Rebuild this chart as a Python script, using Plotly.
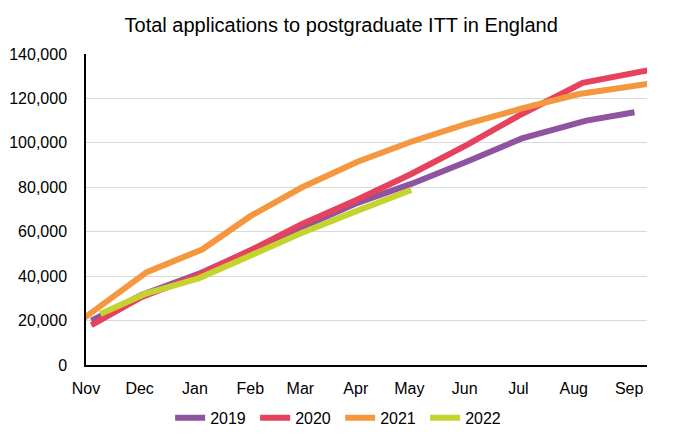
import plotly.graph_objects as go

# Dates placed on a common recruitment-cycle axis (Nov 2021 - Sep 2022)
dates_2019 = ["2021-11-04", "2021-12-02", "2022-01-03", "2022-02-02", "2022-03-02", "2022-04-02",
              "2022-05-02", "2022-06-02", "2022-07-03", "2022-08-08", "2022-09-04"]
values_2019 = [20000, 31500, 41000, 51500, 62000, 73000, 81500, 91500, 102000, 110000, 113800]

dates_2020 = ["2021-11-04", "2021-12-02", "2022-01-03", "2022-02-02", "2022-03-02", "2022-04-02",
              "2022-05-02", "2022-06-02", "2022-07-03", "2022-08-06", "2022-09-12"]
values_2020 = [18000, 30500, 40500, 52000, 63500, 74500, 86000, 99000, 113000, 127000, 132700]

dates_2021 = ["2021-10-31", "2021-12-05", "2022-01-05", "2022-02-01", "2022-03-02", "2022-04-02",
              "2022-05-02", "2022-06-02", "2022-07-03", "2022-08-04", "2022-09-12"]
values_2021 = [21200, 41800, 52000, 67000, 80000, 91500, 100500, 108500, 115500, 122000, 126600]

dates_2022 = ["2021-11-09", "2021-12-04", "2022-01-03", "2022-02-02", "2022-03-02", "2022-04-02",
              "2022-05-02"]
values_2022 = [23000, 32000, 39000, 49500, 59500, 69500, 78800]

series_names = ["2019", "2020", "2021", "2022"]
colors = ["#8F54A0", "#E6415D", "#F5973F", "#C4D32E"]

month_ticks = ["2021-11-01", "2021-12-01", "2022-01-01", "2022-02-01", "2022-03-01", "2022-04-01",
               "2022-05-01", "2022-06-01", "2022-07-01", "2022-08-01", "2022-09-01"]
month_labels = ["Nov", "Dec", "Jan", "Feb", "Mar", "Apr", "May", "Jun", "Jul", "Aug", "Sep"]

y_ticks = [0, 20000, 40000, 60000, 80000, 100000, 120000, 140000]

FONT = "Liberation Sans, Arial, sans-serif"

fig = go.Figure()
all_dates = [dates_2019, dates_2020, dates_2021, dates_2022]
all_values = [values_2019, values_2020, values_2021, values_2022]
for name, d, v, c in zip(series_names, all_dates, all_values, colors):
    fig.add_trace(go.Scatter(x=d, y=v, name=name, mode="lines",
                             line=dict(color=c, width=6)))

fig.update_layout(
    width=680, height=441,
    margin=dict(l=78, r=41, t=46, b=84),
    paper_bgcolor="white", plot_bgcolor="white",
    font=dict(family=FONT, size=16, color="#000000"),
    title=dict(text="Total applications to postgraduate ITT in England",
               x=0.49, xanchor="center", xref="container", y=0.962, yanchor="middle",
               font=dict(family=FONT, size=20, color="#000000")),
    showlegend=True,
    legend=dict(orientation="h", x=0.453, xanchor="center",
                y=-0.17, yanchor="middle",
                font=dict(family=FONT, size=16), entrywidth=40, entrywidthmode="pixels",
                traceorder="normal"),
    xaxis=dict(type="date", range=["2021-11-01", "2022-09-11"],
               tickvals=month_ticks, ticktext=month_labels,
               showgrid=False, showline=True, linecolor="#000000", linewidth=1.5,
               ticks="", ticklabelstandoff=8, zeroline=False, automargin=False),
    yaxis=dict(range=[0, 140000], tickvals=y_ticks,
               ticktext=[f"{t:,}" for t in y_ticks],
               showgrid=True, gridcolor="#D9D9D9", gridwidth=1,
               showline=True, linecolor="#000000", linewidth=1.5,
               ticks="", ticklabelstandoff=14, zeroline=False, automargin=False),
)

fig.write_html("out.html")
